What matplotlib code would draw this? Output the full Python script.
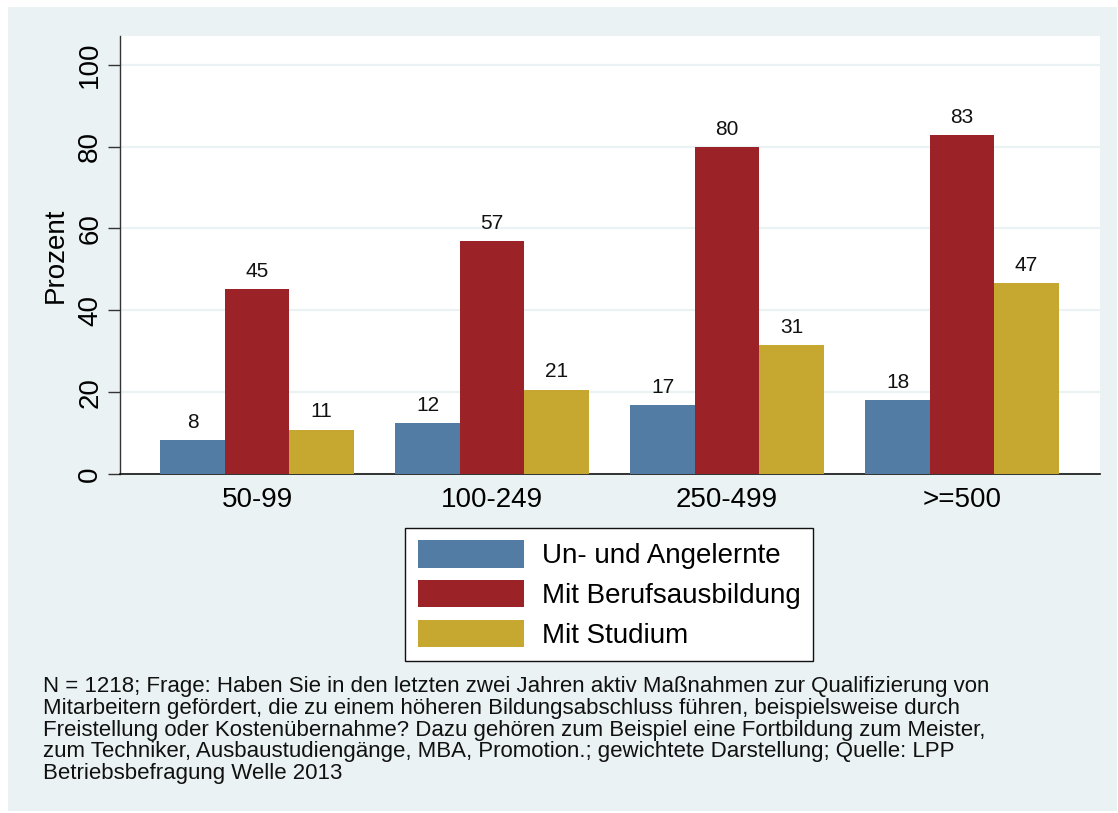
import matplotlib
matplotlib.use("Agg")
import matplotlib.pyplot as plt
from matplotlib.patches import Rectangle
import numpy as np

plt.rcParams['font.family'] = ['Liberation Sans', 'DejaVu Sans']

categories = ["50-99", "100-249", "250-499", ">=500"]
series_names = ["Un- und Angelernte", "Mit Berufsausbildung", "Mit Studium"]
un_angelernte = [8.3, 12.4, 16.8, 18.1]
berufsausbildung = [45.2, 56.8, 79.8, 82.8]
studium = [10.8, 20.6, 31.4, 46.6]
yticks = [0, 20, 40, 60, 80, 100]
footnote = ("N = 1218; Frage: Haben Sie in den letzten zwei Jahren aktiv Maßnahmen zur Qualifizierung von\n"
            "Mitarbeitern gefördert, die zu einem höheren Bildungsabschluss führen, beispielsweise durch\n"
            "Freistellung oder Kostenübernahme? Dazu gehören zum Beispiel eine Fortbildung zum Meister,\n"
            "zum Techniker, Ausbaustudiengänge, MBA, Promotion.; gewichtete Darstellung; Quelle: LPP\n"
            "Betriebsbefragung Welle 2013")

colors = ["#527CA4", "#9B2327", "#C6A830"]
bg = "#EAF2F3"

W, H = 1118, 813
fig = plt.figure(figsize=(W / 100, H / 100), dpi=100, facecolor="white")
fig.patches.append(Rectangle((8 / W, 1 - 811 / H), (1117 - 8) / W, (811 - 7) / H,
                             transform=fig.transFigure, facecolor=bg, edgecolor="none", zorder=-10))

ax = fig.add_axes([120 / W, 1 - 474 / H, (1100 - 120) / W, (474 - 36) / H])
ax.set_facecolor("white")

x = np.arange(len(categories))
w = 0.2745
data = [un_angelernte, berufsausbildung, studium]
for i, (vals, name, c) in enumerate(zip(data, series_names, colors)):
    bars = ax.bar(x + (i - 1) * w, vals, width=w, color=c, label=name, zorder=3, linewidth=0)
    ax.bar_label(bars, labels=[f"{v:.0f}" for v in vals], padding=6, fontsize=15, color="#111111")

ax.set_xlim(-0.583, 3.587)
ax.set_ylim(0, 107)
ax.set_yticks(yticks)
ax.set_yticklabels([str(t) for t in yticks], rotation=90, va="center", fontsize=20)
ax.set_xticks(x)
ax.set_xticklabels(categories, fontsize=20)
ax.tick_params(axis="x", length=0, pad=9)
ax.tick_params(axis="y", length=8.6, width=1.0, color="#333333", pad=3.5)
ax.yaxis.grid(True, color=bg, linewidth=1.6, zorder=0)
ax.set_axisbelow(True)
for s in ["top", "right"]:
    ax.spines[s].set_visible(False)
ax.spines["left"].set_color("#333333")
ax.spines["bottom"].set_color("#111111")
ax.spines["left"].set_linewidth(1.0)
ax.spines["bottom"].set_linewidth(1.2)
ax.set_ylabel("Prozent", fontsize=20, labelpad=6)

leg = fig.legend(loc="center", bbox_to_anchor=(609 / W, 1 - 594.5 / H), fontsize=20,
                 frameon=True, fancybox=False, edgecolor="#111111", facecolor="white",
                 framealpha=1, handlelength=3.82, handleheight=1.15, labelspacing=0.38,
                 handletextpad=0.65, borderpad=0.45, borderaxespad=0)
leg.get_frame().set_linewidth(1.0)

fig.text(43 / W, 1 - 676 / H, footnote, fontsize=16, va="top", ha="left",
         linespacing=1.05, color="#111111")

fig.savefig("out.png", dpi=100, facecolor="white")
